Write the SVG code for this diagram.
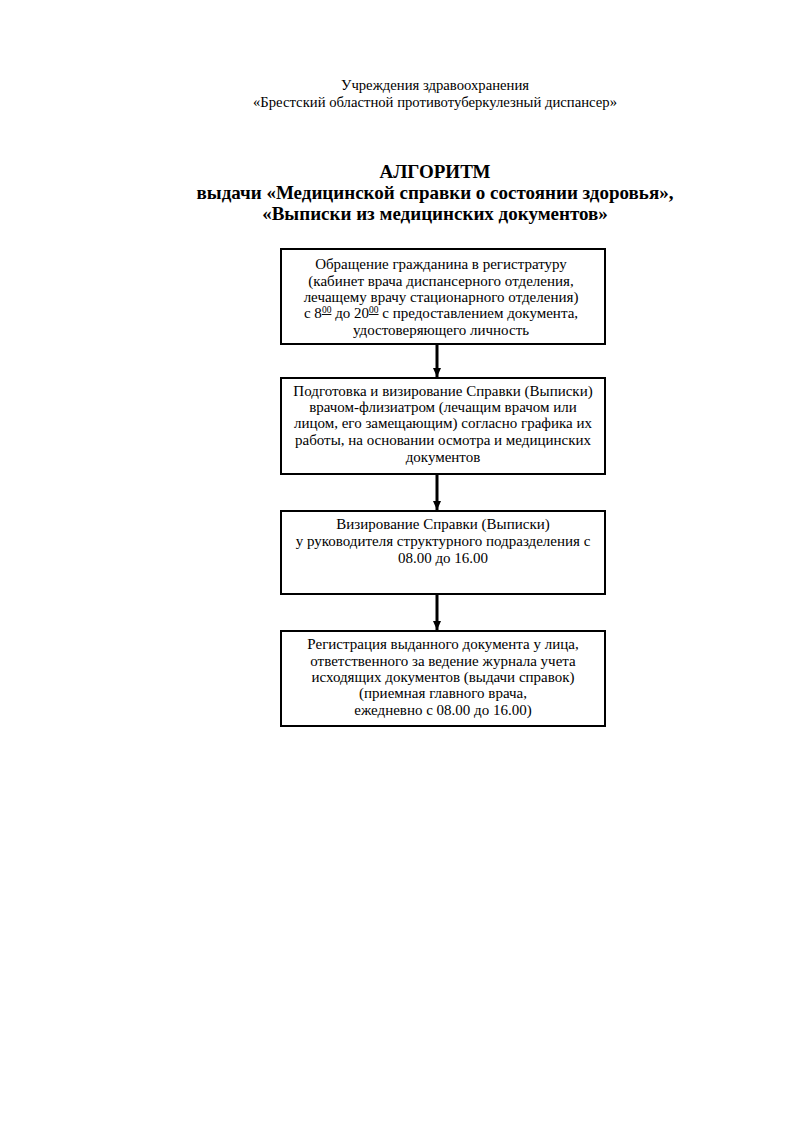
<svg xmlns="http://www.w3.org/2000/svg" width="794" height="1123" viewBox="0 0 794 1123">
<defs>
<style>
.h{font-family:"Liberation Serif","Times New Roman",serif;font-size:14.7px;fill:#000;text-anchor:middle}
.t{font-family:"Liberation Serif","Times New Roman",serif;font-size:19px;font-weight:bold;fill:#000;text-anchor:middle}
.b{font-family:"Liberation Serif","Times New Roman",serif;font-size:15px;fill:#000;text-anchor:middle}
.box{fill:#fff;stroke:#000;stroke-width:2}
.c{stroke:#000;stroke-width:3;fill:none}
.sup{font-size:9.5px;text-decoration:underline}
</style>
<marker id="ah" markerWidth="10" markerHeight="8" refX="9" refY="4" orient="auto" markerUnits="userSpaceOnUse">
<path d="M0,0 L9,4 L0,8 Z" fill="#000"/>
</marker>
</defs>
<rect width="794" height="1123" fill="#fff"/>
<g id="header">
<text class="h" x="435" y="90">Учреждения здравоохранения</text>
<text class="h" x="435" y="107">«Брестский областной противотуберкулезный диспансер»</text>
<text class="t" x="435" y="178">АЛГОРИТМ</text>
<text class="t" x="435" y="199">выдачи «Медицинской справки о состоянии здоровья»,</text>
<text class="t" x="435" y="220">«Выписки из медицинских документов»</text>
</g>
<g id="connectors">
<line class="c" x1="437" y1="345" x2="437" y2="377" marker-end="url(#ah)"/>
<line class="c" x1="437" y1="475" x2="437" y2="510" marker-end="url(#ah)"/>
<line class="c" x1="437" y1="595" x2="437" y2="630" marker-end="url(#ah)"/>
</g>
<g id="node1">
<rect class="box" x="281" y="249" width="324" height="95"/>
<text class="b" x="441" y="269">Обращение гражданина в регистратуру</text>
<text class="b" x="441" y="286">(кабинет врача диспансерного отделения,</text>
<text class="b" x="441" y="302">лечащему врачу стационарного отделения)</text>
<text class="b" x="441" y="318">с 8<tspan class="sup" dy="-5">00</tspan><tspan dy="5"> до 20</tspan><tspan class="sup" dy="-5">00</tspan><tspan dy="5"> с предоставлением документа,</tspan></text>
<text class="b" x="441" y="335">удостоверяющего личность</text>
</g>
<g id="node2">
<rect class="box" x="281" y="378" width="324" height="96"/>
<text class="b" x="443" y="396">Подготовка и визирование Справки (Выписки)</text>
<text class="b" x="443" y="412">врачом-флизиатром (лечащим врачом или</text>
<text class="b" x="443" y="428">лицом, его замещающим) согласно графика их</text>
<text class="b" x="443" y="445">работы, на основании осмотра и медицинских</text>
<text class="b" x="443" y="462">документов</text>
</g>
<g id="node3">
<rect class="box" x="281" y="511" width="324" height="83"/>
<text class="b" x="443" y="529">Визирование Справки (Выписки)</text>
<text class="b" x="443" y="546">у руководителя структурного подразделения  с</text>
<text class="b" x="443" y="563">08.00 до 16.00</text>
</g>
<g id="node4">
<rect class="box" x="281" y="631" width="324" height="95"/>
<text class="b" x="443" y="649">Регистрация выданного документа у лица,</text>
<text class="b" x="443" y="666">ответственного за ведение журнала учета</text>
<text class="b" x="443" y="682">исходящих документов (выдачи справок)</text>
<text class="b" x="443" y="698">(приемная главного врача,</text>
<text class="b" x="443" y="715">ежедневно с 08.00 до 16.00)</text>
</g>
</svg>
